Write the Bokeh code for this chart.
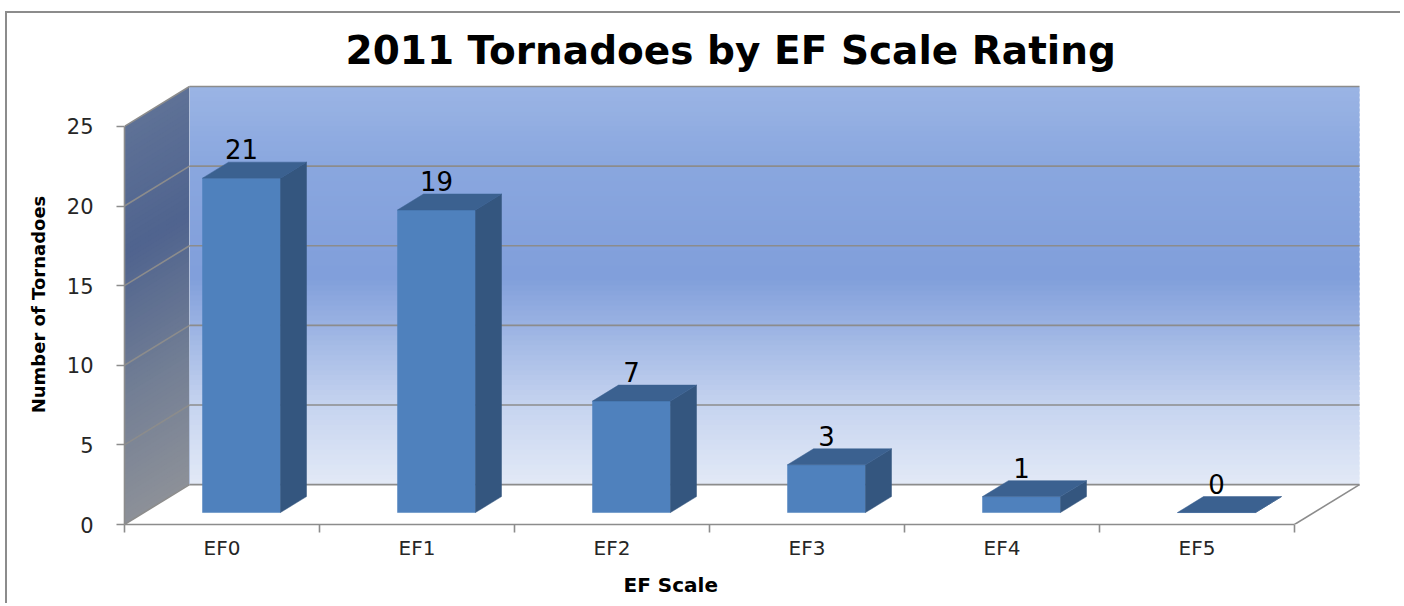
import numpy as np
from bokeh.plotting import figure
from bokeh.models import Range1d, FixedTicker, LinearAxis, Title
from bokeh.embed import file_html
from bokeh.resources import INLINE
from bokeh.core.properties import value

# ---- data ----
categories = ["EF0", "EF1", "EF2", "EF3", "EF4", "EF5"]
counts = [21, 19, 7, 3, 1, 0]
y_ticks = [0, 5, 10, 15, 20, 25]
title_text = "2011 Tornadoes by EF Scale Rating"
x_title = "EF Scale"
y_title = "Number of Tornadoes"

# ---- geometry / style ----
OX, OY = 7, 13                 # canvas origin on the page (after css margin+border)
W, H = 1395, 592
FL, FR, FT, FB = 124, 1380, 83, 524   # frame edges on the page
LEFT, RIGHT, TOP, BOTTOM = FL - OX, OX + W - FR, FT - OY, OY + H - FB
PX_X = 195.0
PX_Y = 15.96
DX = 65.0 / PX_X          # depth offset in category units
DY = 40.0 / PX_Y          # depth offset in value units
n = len(categories)
ymax = y_ticks[-1]
FONT = "DejaVu Sans"

p = figure(width=W, height=H, output_backend="svg", toolbar_location=None,
           x_range=Range1d(0, (FR - FL) / PX_X), y_range=Range1d(0, (FB - FT) / PX_Y),
           min_border_left=LEFT, min_border_right=RIGHT,
           min_border_top=TOP, min_border_bottom=BOTTOM,
           x_axis_location=None, y_axis_location=None)
p.styles = {"border-top": "2px solid #8c8c8c", "border-left": "2px solid #8c8c8c",
            "margin-left": "5px", "margin-top": "11px"}
p.outline_line_color = None
p.background_fill_color = "white"
p.border_fill_color = "white"
p.xgrid.visible = False
p.ygrid.visible = False


def hex2rgb(h):
    h = h.lstrip("#")
    return np.array([int(h[i:i + 2], 16) for i in (0, 2, 4)], dtype=float)


def grad(stops, t):
    pos = [s[0] for s in stops]
    cols = np.array([hex2rgb(s[1]) for s in stops])
    out = []
    for tt in t:
        r = np.interp(tt, pos, cols[:, 0])
        g = np.interp(tt, pos, cols[:, 1])
        b = np.interp(tt, pos, cols[:, 2])
        out.append("#%02x%02x%02x" % (int(r), int(g), int(b)))
    return out


# back wall gradient strips
NS = 80
edges = np.linspace(0, ymax, NS + 1)
mids = (edges[:-1] + edges[1:]) / 2
ov = (edges[1] - edges[0]) * 0.6
tops = np.minimum(edges[1:] + ov, ymax)
back_cols = grad([(0, "#e3eaf7"), (5, "#c6d4f0"), (13, "#819fdb"), (20, "#8aa7df"), (25, "#9bb5e5")], mids)
p.quad(left=DX, right=n + DX, bottom=edges[:-1] + DY, top=tops + DY,
       fill_color=back_cols, line_color=None)

# left wall gradient strips
left_cols = grad([(0, "#8d9199"), (8, "#737f95"), (17, "#50648f"), (25, "#5f7297")], mids)
p.patches(xs=[[0, 0, DX, DX] for _ in mids],
          ys=[[a, b, b + DY, a + DY] for a, b in zip(edges[:-1], tops)],
          fill_color=left_cols, line_color=None)

# floor
p.patch(x=[0, n, n + DX, DX], y=[0, 0, DY, DY], fill_color="white", line_color=None)

# wall corner
p.segment(x0=DX, y0=DY, x1=DX, y1=ymax + DY, line_color="#b4c2dd", line_width=1)

# gridlines on walls (incl. floor back edge and top edges)
gx0 = [DX] * len(y_ticks) + [0] * len(y_ticks)
gy0 = [v + DY for v in y_ticks] + list(y_ticks)
gx1 = [n + DX] * len(y_ticks) + [DX] * len(y_ticks)
gy1 = [v + DY for v in y_ticks] * 2
p.segment(x0=gx0, y0=gy0, x1=gx1, y1=gy1, line_color="#8c8c8c", line_width=1.6)
# floor right edge
p.segment(x0=n, y0=0, x1=n + DX, y1=DY, line_color="#8c8c8c", line_width=1.6)

# bars
d0, d1 = 0.3, 0.7
bw = 0.4
x0s = [i + (1 - bw) / 2 for i in range(n)]
x1s = [x + bw for x in x0s]
p.quad(left=[x + d0 * DX for x in x0s], right=[x + d0 * DX for x in x1s],
       bottom=d0 * DY, top=[v + d0 * DY for v in counts],
       fill_color="#4f81bd", line_color="#4f81bd", line_width=0.5)
p.patches(xs=[[x + d0 * DX, x + d1 * DX, x + d1 * DX, x + d0 * DX] for x in x1s],
          ys=[[d0 * DY, d1 * DY, v + d1 * DY, v + d0 * DY] for v in counts],
          fill_color="#34567f", line_color="#34567f", line_width=0.5)
p.patches(xs=[[a + d0 * DX, b + d0 * DX, b + d1 * DX, a + d1 * DX] for a, b in zip(x0s, x1s)],
          ys=[[v + d0 * DY, v + d0 * DY, v + d1 * DY, v + d1 * DY] for v in counts],
          fill_color="#3b6190", line_color="#3b6190", line_width=0.5)

# data labels
p.text(x=[i + 0.5 + d0 * DX for i in range(n)], y=[v + d1 * DY for v in counts],
       text=[str(v) for v in counts], text_align="center", text_baseline="bottom",
       text_font=value(FONT), text_font_size="26px", text_color="black", y_offset=-3)

# axes
xa = LinearAxis(ticker=FixedTicker(ticks=[i + 0.5 for i in range(n)],
                                   minor_ticks=list(range(n + 1))),
                major_label_overrides={i + 0.5: c for i, c in enumerate(categories)},
                bounds=(0, n))
xa.axis_line_color = "#8c8c8c"
xa.axis_line_width = 1.6
xa.major_tick_line_color = None
xa.major_tick_out = 0
xa.major_tick_in = 0
xa.minor_tick_line_color = "#8c8c8c"
xa.minor_tick_line_width = 1.6
xa.minor_tick_out = 8
xa.minor_tick_in = 0
xa.major_label_standoff = 3
xa.major_label_text_font = FONT
xa.major_label_text_font_size = "20px"
xa.major_label_text_color = "#262626"
p.add_layout(xa, "below")

xt = Title(text=x_title, align="left", offset=499, text_font=FONT,
           text_font_size="20px", text_font_style="bold", text_color="black", standoff=17)
p.add_layout(xt, "below")

ya = LinearAxis(ticker=FixedTicker(ticks=y_ticks), bounds=(0, ymax), axis_label=y_title)
ya.axis_line_color = "#8c8c8c"
ya.axis_line_width = 1.6
ya.major_tick_line_color = "#8c8c8c"
ya.major_tick_line_width = 1.6
ya.major_tick_out = 8
ya.major_tick_in = 0
ya.minor_tick_line_color = None
ya.major_label_standoff = 23
ya.major_label_text_font = FONT
ya.major_label_text_font_size = "21px"
ya.major_label_text_color = "#262626"
ya.axis_label_text_font = FONT
ya.axis_label_text_font_size = "18px"
ya.axis_label_text_font_style = "bold"
ya.axis_label_text_color = "black"
ya.axis_label_standoff = 15
p.add_layout(ya, "left")

p.title.text = title_text
p.title.align = "left"
p.title.offset = 221
p.title.text_font = FONT
p.title.text_font_size = "39px"
p.title.text_font_style = "bold"
p.title.text_color = "black"
p.title.standoff = 24

open("out.html", "w").write(file_html(p, INLINE))
